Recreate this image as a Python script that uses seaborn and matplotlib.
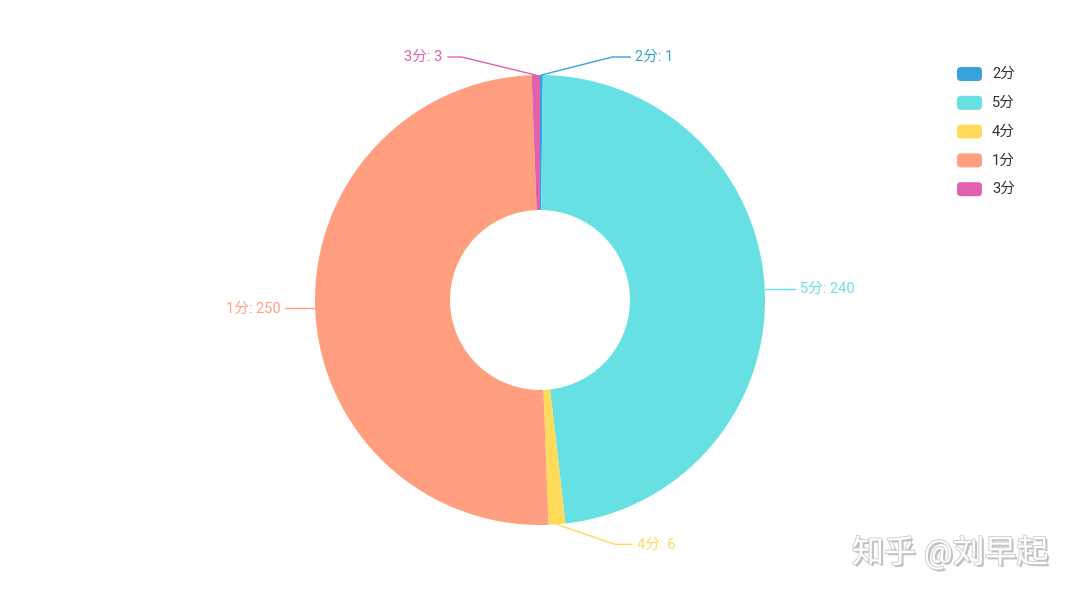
import numpy as np
import matplotlib.pyplot as plt
import seaborn as sns
import matplotlib.patheffects as pe
from matplotlib.patches import FancyBboxPatch

# data
categories = ['2分', '5分', '4分', '1分', '3分']
counts = [1, 240, 6, 250, 3]
colors = ['#37a2da', '#67e0e3', '#ffdb5c', '#ff9f7f', '#e062ae']

# label line layout: (elbow dx, elbow dy, horizontal length) in pixels
label_layout = {
    '2分': (71, 18, 18),
    '5分': (15, 0, 15),
    '4分': (58, -20, 17),
    '1分': (-15, 0, 15),
    '3分': (-74, 18, 14),
}

sns.set_theme(style='white')
plt.rcParams['font.family'] = ['Roboto', 'Noto Sans CJK SC', 'DejaVu Sans']

fig = plt.figure(figsize=(10.8, 6), dpi=100)
fig.patch.set_facecolor('white')
ax = fig.add_axes([0, 0, 1, 1])

cx, cy, R = 540, 300, 225
wedges, _ = ax.pie(counts, colors=colors, startangle=90, counterclock=False,
                   radius=R, center=(cx, cy), frame=True,
                   wedgeprops=dict(width=R * 0.6, linewidth=0))
ax.set_xlim(0, 1080)
ax.set_ylim(0, 600)
ax.set_aspect('equal')
ax.axis('off')

# outside labels with elbow lines
for w, cat, val, col in zip(wedges, categories, counts, colors):
    mid = np.deg2rad((w.theta1 + w.theta2) / 2)
    x0, y0 = cx + R * np.cos(mid), cy + R * np.sin(mid)
    dx, dy, h = label_layout[cat]
    side = 1 if dx >= 0 else -1
    x1, y1 = x0 + dx, y0 + dy
    x2 = x1 + side * h
    ax.plot([x0, x1, x2], [y0, y1, y1], color=col, lw=1)
    ax.text(x2 + side * 5, y1, f'{cat}: {val}', color=col, fontsize=10.5,
            ha='left' if side > 0 else 'right', va='center')

# legend drawn as rounded boxes
for i, (cat, col) in enumerate(zip(categories, colors)):
    y = 600 - 74 - 28.8 * i
    ax.add_patch(FancyBboxPatch((957, y - 7), 25, 14,
                                boxstyle='round,pad=0,rounding_size=4',
                                facecolor=col, edgecolor='none'))
    ax.text(992, y, cat, fontsize=10.5, color='#333333', va='center', ha='left')

# watermark
ax.text(852, 600 - 552, '知乎 @刘早起', fontsize=23, color='white', va='center',
        ha='left',
        path_effects=[pe.withSimplePatchShadow(offset=(1.5, -1.5), shadow_rgbFace='#b0b0b0', alpha=0.8),
                      pe.withStroke(linewidth=1.2, foreground='#c8c8c8')])

fig.savefig('out.png', dpi=100)
